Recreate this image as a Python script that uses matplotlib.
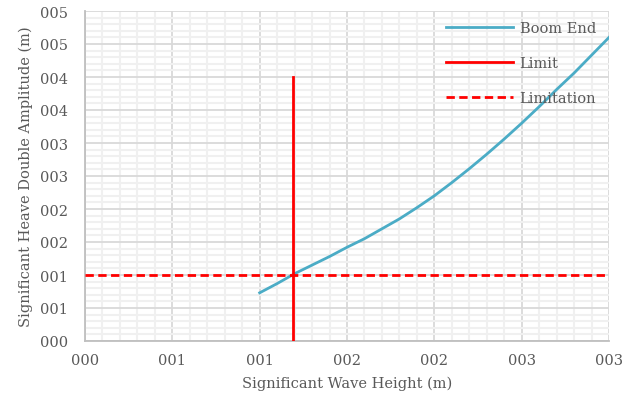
import math
import matplotlib
matplotlib.use("Agg")
import matplotlib.pyplot as plt
from matplotlib.ticker import MultipleLocator, FuncFormatter

# Data
wave_height = [1.0, 1.1, 1.2, 1.3, 1.4, 1.5, 1.6, 1.7, 1.8, 1.9, 2.0,
               2.1, 2.2, 2.3, 2.4, 2.5, 2.6, 2.7, 2.8, 2.9, 3.0]
boom_end = [0.73, 0.87, 1.02, 1.15, 1.28, 1.42, 1.55, 1.70, 1.85, 2.02, 2.20,
            2.40, 2.61, 2.83, 3.06, 3.30, 3.55, 3.81, 4.06, 4.33, 4.60]
limit_x = [1.19, 1.19]
limit_y = [0.0, 4.0]
limitation_x = [0.0, 3.0]
limitation_y = [1.0, 1.0]

plt.rcParams['font.family'] = ['DejaVu Serif']
txt = '#595959'

fig = plt.figure(figsize=(6.33, 4.02), dpi=100)
ax = fig.add_axes([85/633, 1-342/402, (609-85)/633, (342-12)/402])

ax.plot(wave_height, boom_end, color='#4bacc6', lw=2, label='Boom End', zorder=4)
ax.plot(limit_x, limit_y, color='#ff0000', lw=2, label='Limit', zorder=4)
ax.plot(limitation_x, limitation_y, color='#ff0000', lw=2, ls=(0, (3, 1.6)),
        label='Limitation', zorder=4)

ax.set_xlim(0, 3)
ax.set_ylim(0, 5)
ax.xaxis.set_major_locator(MultipleLocator(0.5))
ax.xaxis.set_minor_locator(MultipleLocator(0.1))
ax.yaxis.set_major_locator(MultipleLocator(0.5))
ax.yaxis.set_minor_locator(MultipleLocator(0.1))
fmt = FuncFormatter(lambda v, p: '%03d' % int(math.floor(v + 0.5 + 1e-9)))
ax.xaxis.set_major_formatter(fmt)
ax.yaxis.set_major_formatter(fmt)

ax.grid(which='major', color='#d9d9d9', lw=1.3)
ax.grid(which='minor', color='#f0f0f0', lw=1.5)
ax.set_axisbelow(True)
for s in ['top', 'right']:
    ax.spines[s].set_visible(False)
for s in ['left', 'bottom']:
    ax.spines[s].set_color('#bfbfbf')
    ax.spines[s].set_linewidth(1.3)

ax.tick_params(which='both', length=0, labelsize=10.5, colors=txt)
ax.tick_params(axis='y', pad=12)
ax.tick_params(axis='x', pad=9)

ax.set_xlabel('Significant Wave Height (m)', fontsize=10.5, color=txt, labelpad=6)
ax.set_ylabel('Significant Heave Double Amplitude (m)', fontsize=10.5, color=txt, labelpad=5)

leg = ax.legend(loc='upper right', bbox_to_anchor=(0.995, 1.0), frameon=False,
                fontsize=10.5, handlelength=4.6, labelspacing=1.45, handletextpad=0.45,
                borderaxespad=0.3)
for t in leg.get_texts():
    t.set_color(txt)

fig.savefig('out.png', dpi=100)
